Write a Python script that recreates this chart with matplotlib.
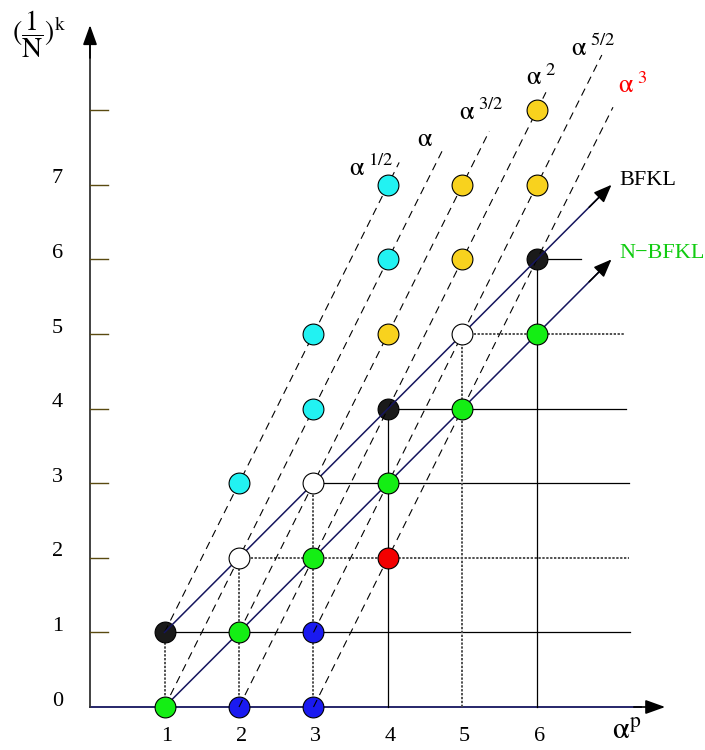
import matplotlib.pyplot as plt

plt.rcParams["font.family"] = ["Liberation Serif", "DejaVu Serif"]
plt.rcParams["mathtext.fontset"] = "stix"

# pixel layout of the reference: origin at (90, 707), one unit ~74.5 px
X0, Y0, UX, UY = 90, 707, 74.5, 74.6
W, H = 705, 750

x_ticks = [1, 2, 3, 4, 5, 6]
y_ticks = [0, 1, 2, 3, 4, 5, 6, 7]
y_tick_marks = [1, 2, 3, 4, 5, 6, 7, 8]

# points (p, k) per colour
cyan_pts = [(2, 3), (3, 4), (3, 5), (4, 6), (4, 7)]
gold_pts = [(4, 5), (5, 6), (5, 7), (6, 7), (6, 8)]
black_pts = [(1, 1), (4, 4), (6, 6)]
white_pts = [(2, 2), (3, 3), (5, 5)]
green_pts = [(1, 0), (2, 1), (3, 2), (4, 3), (5, 4), (6, 5)]
red_pts = [(4, 2)]
blue_pts = [(2, 0), (3, 0), (3, 1)]

# dashed lines of slope 2: start point, end x, label, label position, colour
dash_starts = [(1, 1), (1, 0), (2, 1), (2, 0), (3, 1), (3, 0)]
dash_ends_x = [4.15, 4.74, 5.36, 6.12, 6.87, 7.02]
dash_labels = [r"$\mathrm{\alpha}^{\ 1/2}$", r"$\mathrm{\alpha}$", r"$\mathrm{\alpha}^{\ 3/2}$",
               r"$\mathrm{\alpha}^{\ 2}$", r"$\mathrm{\alpha}^{\ 5/2}$", r"$\mathrm{\alpha}^{\ 3}$"]
dash_label_pos = [(3.78, 7.22), (4.5, 7.6), (5.25, 7.98), (6.05, 8.45), (6.75, 8.83), (7.28, 8.34)]
dash_label_colors = ["black", "black", "black", "black", "black", "red"]

# grid segments from the diagonal points: (x, y, x_end, style)
h_lines = [(1, 1, 7.25, "solid"), (2, 2, 7.24, "dot"), (3, 3, 7.24, "solid"),
           (4, 4, 7.19, "solid"), (5, 5, 7.18, "dot"), (6, 6, 6.59, "solid")]
v_lines = [(1, 1, "dot"), (2, 2, "dot"), (3, 3, "dot"), (4, 4, "solid"), (5, 5, "dot"), (6, 6, "solid")]

fig = plt.figure(figsize=(W / 100, H / 100), dpi=100)
ax = fig.add_axes([0, 0, 1, 1])
ax.set_xlim(-X0 / UX, (W - X0) / UX)
ax.set_ylim((Y0 - H) / UY, Y0 / UY)
ax.axis("off")

navy = "#15155e"
dot_style = dict(color="#505050", lw=1.4, ls=(0, (1.2, 0.8)))
solid_style = dict(color="black", lw=0.9, ls="-")

for x, y, xe, st in h_lines:
    ax.plot([x, xe], [y, y], **(dot_style if st == "dot" else solid_style), zorder=2)
for x, y, st in v_lines:
    ax.plot([x, x], [0, y], **(dot_style if st == "dot" else solid_style), zorder=2)

for (xs, ys), xe in zip(dash_starts, dash_ends_x):
    ax.plot([xs, xe], [ys, ys + 2 * (xe - xs)], color="black", lw=0.8,
            ls=(0, (7, 5)), zorder=3)
for lab, (lx, ly), c in zip(dash_labels, dash_label_pos, dash_label_colors):
    ax.text(lx, ly, lab, color=c, fontsize=19, ha="center", va="center")

# BFKL and N-BFKL arrows
for (xs, ys), (xe, ye), lab, lpos, c in [((1, 1), (7, 7), "BFKL", (7.49, 7.06), "black"),
                                         ((1, 0), (7, 6), "N\u2212BFKL", (7.68, 6.08), "#11cc11")]:
    ax.plot([xs, xe - 0.15], [ys, ye - 0.15], color=navy, lw=1.1, zorder=3)
    ax.annotate("", xy=(xe, ye), xytext=(xe - 0.3, ye - 0.3),
                arrowprops=dict(arrowstyle="-|>,head_length=0.5,head_width=0.2", color="black",
                                lw=1.1, mutation_scale=22, shrinkA=0, shrinkB=0), zorder=3)
    ax.text(lpos[0], lpos[1], lab, color=c, fontsize=16, ha="center", va="center")

# axes
ax.plot([0, 7.4], [0, 0], color=navy, lw=1.3, zorder=1)
ax.annotate("", xy=(7.72, 0), xytext=(7.3, 0),
            arrowprops=dict(arrowstyle="-|>,head_length=0.5,head_width=0.18", color="black",
                            lw=1.2, mutation_scale=24, shrinkA=0, shrinkB=0))
ax.plot([0, 0], [0, 8.9], color="#333333", lw=1.3)
ax.annotate("", xy=(0, 9.14), xytext=(0, 8.7),
            arrowprops=dict(arrowstyle="-|>,head_length=0.5,head_width=0.18", color="black",
                            lw=1.2, mutation_scale=24, shrinkA=0, shrinkB=0))
for yt in y_tick_marks:
    ax.plot([0, 0.24], [yt, yt], color="#5a4a10", lw=1.0)
for yt in y_ticks:
    ax.text(-0.44, yt + 0.08, str(yt), fontsize=16, ha="center", va="center")
for xt in x_ticks:
    ax.text(xt + 0.03, -0.4, str(xt), fontsize=16, ha="center", va="center")

ax.text(7.2, -0.33, r"$\mathrm{\alpha}^{\mathrm{p}}$", fontsize=22, ha="center", va="center")
ax.text(-0.68, 9.02, r"$(\dfrac{1}{\mathrm{N}})^{\mathrm{k}}$", fontsize=20, ha="center", va="center")

ms = 15
groups = [(cyan_pts, "#22f2f2", 5), (gold_pts, "#f8d21e", 5), (black_pts, "#1a1a1a", 2.5),
          (white_pts, "white", 5), (green_pts, "#14ee14", 5), (red_pts, "#f20000", 5),
          (blue_pts, "#1a1af0", 2.5)]
for pts, col, z in groups:
    ax.plot([p[0] for p in pts], [p[1] for p in pts], "o", ms=ms, mfc=col,
            mec="black", mew=0.8, ls="none", zorder=z)

fig.savefig("out.png", dpi=100)
